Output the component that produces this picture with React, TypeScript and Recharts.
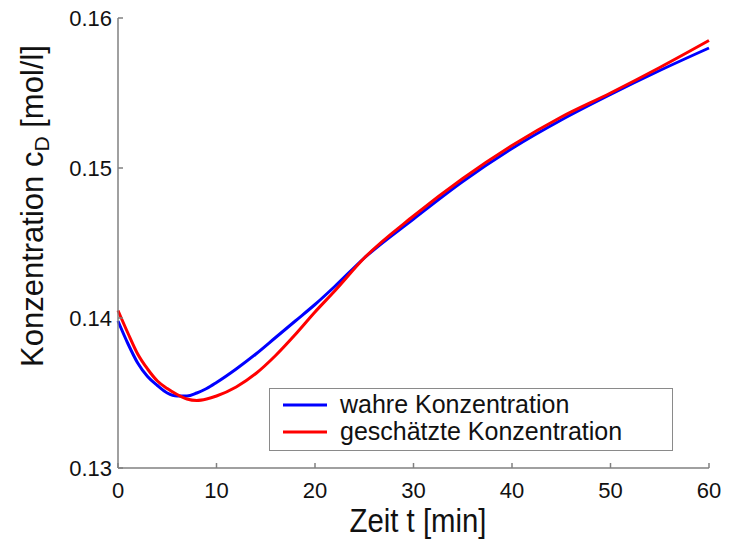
import { LineChart, Line, XAxis, YAxis, Legend } from "recharts";

const FONT = "'Liberation Sans', Arial, Helvetica, sans-serif";
const BLUE = "#0000ff";
const RED = "#ff0000";

// Zeit t [min]
const times = [0, 1, 2, 3, 4, 5, 6, 7, 8, 9, 10, 12, 14, 16, 18, 20, 22, 25, 30, 35, 40, 45, 50, 55, 60];
// wahre Konzentration
const trueConc = [
  0.1398, 0.1383, 0.137, 0.1361, 0.1355, 0.135, 0.1348, 0.1348, 0.135, 0.1353, 0.1357, 0.1366, 0.1376,
  0.1387, 0.1398, 0.1409, 0.1421, 0.144, 0.1466, 0.1491, 0.1513, 0.1532, 0.1549, 0.1565, 0.158,
];
// geschätzte Konzentration
const estConc = [
  0.1405, 0.139, 0.1376, 0.1366, 0.1358, 0.1353, 0.1349, 0.1346, 0.1345, 0.1346, 0.1348, 0.1354, 0.1363,
  0.1375, 0.1389, 0.1404, 0.1418, 0.144, 0.1468, 0.1493, 0.1515, 0.1534, 0.155, 0.1567, 0.1585,
];

const xTicks = [0, 10, 20, 30, 40, 50, 60];
const yTicks = [0.13, 0.14, 0.15, 0.16];

const data = times.map((t, i) => ({ t, wahr: trueConc[i], geschaetzt: estConc[i] }));

function LegendBox() {
  return (
    <svg width={404} height={63} style={{ display: "block" }}>
      <rect x={0.5} y={0.5} width={403} height={62} fill="#fff" stroke="#8a8a8a" />
      <line x1={14} x2={58} y1={17} y2={17} stroke={BLUE} strokeWidth={3} />
      <line x1={14} x2={58} y1={44} y2={44} stroke={RED} strokeWidth={3} />
      <text x={71} y={25} fontFamily={FONT} fontSize={25} fill="#111">
        wahre Konzentration
      </text>
      <text x={71} y={52} fontFamily={FONT} fontSize={25} fill="#111">
        geschätzte Konzentration
      </text>
    </svg>
  );
}

export default function App() {
  return (
    <div style={{ position: "absolute", left: 0, top: 0, width: 731, height: 547, background: "#fff" }}>
      <LineChart width={731} height={547} data={data} margin={{ top: 18, right: 22, bottom: 0, left: 0 }}>
        <XAxis
          dataKey="t"
          type="number"
          domain={[0, 60]}
          ticks={xTicks}
          height={79}
          stroke="#808080"
          strokeWidth={1.5}
          tickSize={-5}
          tickMargin={19}
          tick={{ fill: "#111", fontSize: 22, fontFamily: FONT }}
          label={{
            content: () => (
              <text
                x={418}
                y={532}
                textAnchor="middle"
                fontFamily={FONT}
                fontSize={34}
                textLength={137}
                lengthAdjust="spacingAndGlyphs"
                fill="#111"
              >
                Zeit t [min]
              </text>
            ),
          }}
        />
        <YAxis
          type="number"
          domain={[0.13, 0.16]}
          ticks={yTicks}
          width={118}
          stroke="#808080"
          strokeWidth={1.5}
          tickSize={-5}
          tickMargin={11}
          tickFormatter={(v: number) => v.toFixed(2)}
          tick={{ fill: "#111", fontSize: 22, fontFamily: FONT }}
          label={{
            content: () => (
              <text
                x={43}
                y={367}
                transform="rotate(-90, 43, 367)"
                fontFamily={FONT}
                fontSize={31}
                fill="#111"
              >
                Konzentration c
                <tspan fontSize={21} dy={6}>D</tspan>
                <tspan dy={-6}> [mol/l]</tspan>
              </text>
            ),
          }}
        />
        <Legend
          layout="vertical"
          align="center"
          verticalAlign="middle"
          wrapperStyle={{ left: 269, top: 388, width: 404, height: 63 }}
          content={() => <LegendBox />}
        />
        <Line
          type="monotone"
          dataKey="wahr"
          stroke={BLUE}
          strokeWidth={3}
          dot={false}
          isAnimationActive={false}
        />
        <Line
          type="monotone"
          dataKey="geschaetzt"
          stroke={RED}
          strokeWidth={3}
          dot={false}
          isAnimationActive={false}
        />
      </LineChart>
    </div>
  );
}
